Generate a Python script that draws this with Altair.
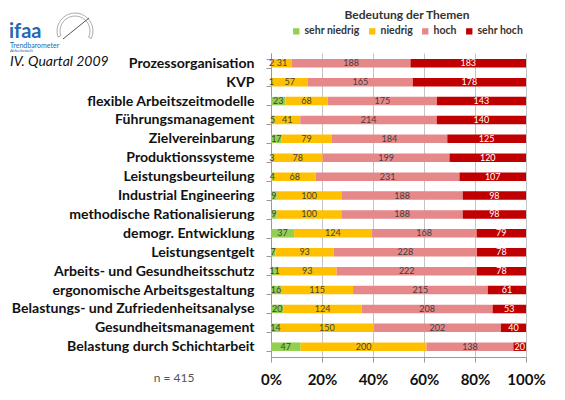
import altair as alt
import pandas as pd

categories = [
    "Prozessorganisation", "KVP", "flexible Arbeitszeitmodelle", "Führungsmanagement",
    "Zielvereinbarung", "Produktionssysteme", "Leistungsbeurteilung", "Industrial Engineering",
    "methodische Rationalisierung", "demogr. Entwicklung", "Leistungsentgelt",
    "Arbeits- und Gesundheitsschutz", "ergonomische Arbeitsgestaltung",
    "Belastungs- und Zufriedenheitsanalyse", "Gesundheitsmanagement",
    "Belastung durch Schichtarbeit",
]
levels = ["sehr niedrig", "niedrig", "hoch", "sehr hoch"]
colors = ["#92D050", "#FFC000", "#E6878A", "#C00000"]

sehr_niedrig = [2, 1, 23, 5, 17, 3, 4, 9, 9, 37, 7, 11, 16, 20, 14, 47]
niedrig = [31, 57, 68, 41, 79, 78, 68, 100, 100, 124, 93, 93, 115, 124, 150, 200]
hoch = [188, 165, 175, 214, 184, 199, 231, 188, 188, 168, 228, 222, 215, 208, 202, 138]
sehr_hoch = [183, 178, 143, 140, 125, 120, 107, 98, 98, 79, 78, 78, 61, 53, 40, 20]

series = [sehr_niedrig, niedrig, hoch, sehr_hoch]
rows = []
for li, (lev, vals) in enumerate(zip(levels, series)):
    for cat, v in zip(categories, vals):
        rows.append({"cat": cat, "level": lev, "ord": li, "count": v})
df = pd.DataFrame(rows)

FONT = "Lato"

base = alt.Chart(df).transform_stack(
    stack="count", groupby=["cat"], as_=["x0", "x1"], offset="normalize",
    sort=[alt.SortField("ord", order="ascending")],
).transform_calculate(mid="(datum.x0 + datum.x1) / 2")

yenc = alt.Y(
    "cat:N", sort=categories, title=None,
    scale=alt.Scale(paddingInner=0.55, paddingOuter=0.32),
    axis=alt.Axis(
        labelFont=FONT, labelFontWeight="bold", labelFontSize=14.1, labelColor="#111",
        labelPadding=12, tickBand="extent", tickSize=5, tickColor="#999",
        domainColor="#999", grid=False, labelLimit=400,
    ),
)

bars = base.mark_bar().encode(
    x=alt.X(
        "x0:Q", title=None,
        scale=alt.Scale(domain=[0, 1], nice=False),
        axis=alt.Axis(
            values=[0, 0.2, 0.4, 0.6, 0.8, 1.0], format=".0%",
            labelFont=FONT, labelFontWeight="bold", labelFontSize=15, labelColor="#111",
            labelPadding=10, tickSize=5, tickColor="#999", domainColor="#999",
            gridColor="#c4c4c4", grid=True, labelOverlap=False, labelFlush=False,
        ),
    ),
    x2="x1:Q",
    y=yenc,
    color=alt.Color(
        "level:N", sort=levels,
        scale=alt.Scale(domain=levels, range=colors),
        legend=alt.Legend(
            title="Bedeutung der Themen", orient="none", direction="horizontal",
            legendX=20, legendY=-43, titleAnchor="middle", titleFont=FONT,
            titleFontSize=12, titleFontWeight="bold", titleColor="#333",
            titlePadding=4, labelFont=FONT, labelFontSize=10.5, labelFontWeight="bold",
            labelColor="#333", symbolType="square", symbolSize=40,
            symbolStrokeWidth=0, columnPadding=7, labelOffset=3,
        ),
    ),
)

labels = base.mark_text(font=FONT, fontSize=9, baseline="middle", align="center").encode(
    x="mid:Q",
    y=alt.Y("cat:N", sort=categories),
    text="count:Q",
    color=alt.condition("datum.level === 'sehr hoch'", alt.value("white"), alt.value("#404040")),
)

deco_df = pd.DataFrame({"k": [0]})
deco = alt.Chart(deco_df)

quartal = deco.mark_text(font=FONT, fontSize=14, fontStyle="italic", align="left",
                         baseline="middle", color="#111").encode(
    x=alt.value(-261), y=alt.value(9), text=alt.value("IV. Quartal 2009"))
n_text = deco.mark_text(font=FONT, fontSize=12, align="center", baseline="middle",
                        color="#555").encode(
    x=alt.value(-97), y=alt.value(325), text=alt.value("n = 415"))
ifaa = deco.mark_text(font=FONT, fontSize=20, fontWeight="bold", align="left",
                      baseline="alphabetic", color="#2468b4").encode(
    x=alt.value(-262), y=alt.value(-15), text=alt.value("ifaa"))
trend = deco.mark_text(font=FONT, fontSize=7, align="left", baseline="middle",
                       color="#2468b4").encode(
    x=alt.value(-261), y=alt.value(-7), text=alt.value("Trendbarometer"))
arbeit = deco.mark_text(font=FONT, fontSize=4.5, align="left", baseline="middle",
                        color="#2468b4").encode(
    x=alt.value(-261), y=alt.value(-2), text=alt.value("Arbeitswelt"))
gauge = deco.mark_arc(radius=18, radius2=15, theta=4.38, theta2=8.28, fill="white",
                      stroke="#999", strokeWidth=0.8).encode(
    x=alt.value(-196), y=alt.value(-22))
needle = deco.mark_rule(color="#555", strokeWidth=1).encode(
    x=alt.value(-208), y=alt.value(-14), x2=alt.value(-182), y2=alt.value(-35))

chart = alt.layer(bars, labels, quartal, n_text, ifaa, trend, arbeit, gauge, needle).properties(
    width=255, height=304,
    autosize=alt.AutoSizeParams(type="none"),
    padding={"left": 263, "top": 45, "right": 30, "bottom": 35},
    background="white",
).configure_view(stroke=None)

chart.save("out.html", embed_options={"renderer": "svg", "actions": False})
